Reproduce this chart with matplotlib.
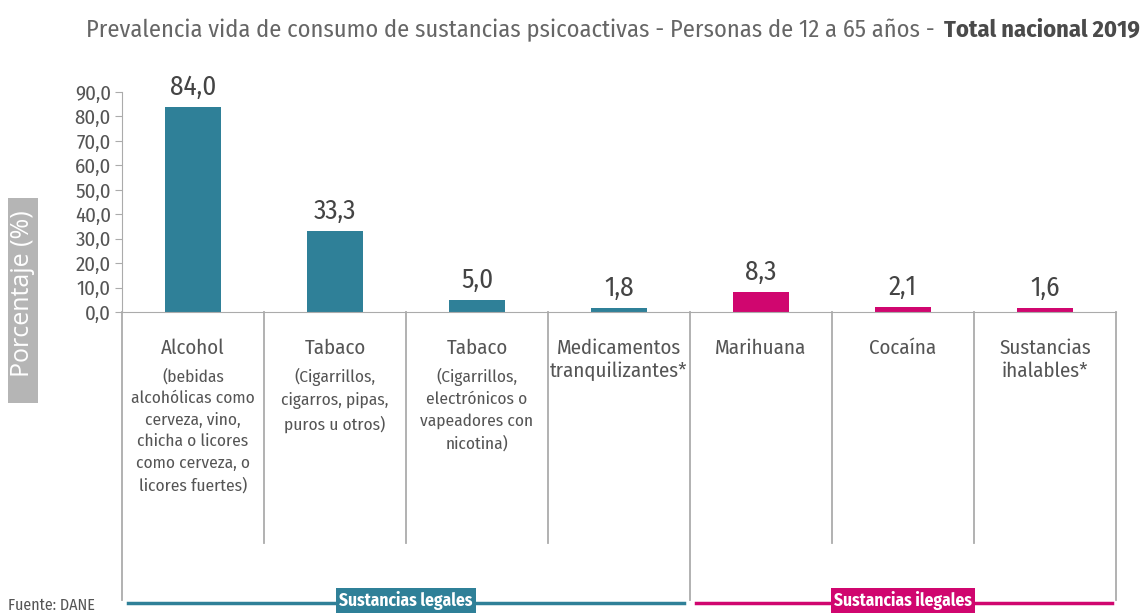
import matplotlib
matplotlib.use('Agg')
import matplotlib.pyplot as plt
from matplotlib.patches import Rectangle
from matplotlib.transforms import blended_transform_factory

plt.rcParams['font.family'] = ['Fira Sans Condensed', 'DejaVu Sans']

# data
categorias = ['Alcohol', 'Tabaco', 'Tabaco', 'Medicamentos\ntranquilizantes*',
              'Marihuana', 'Cocaína', 'Sustancias\nihalables*']
detalles = ['(bebidas\nalcohólicas como\ncerveza, vino,\nchicha o licores\ncomo cerveza, o\nlicores fuertes)',
            '(Cigarrillos,\ncigarros, pipas,\npuros u otros)',
            '(Cigarrillos,\nelectrónicos o\nvapeadores con\nnicotina)',
            '', '', '', '']
valores = [84.0, 33.3, 5.0, 1.8, 8.3, 2.1, 1.6]
legal = [True, True, True, True, False, False, False]
yticks = [0, 10, 20, 30, 40, 50, 60, 70, 80, 90]

TEAL = '#2f8098'
MAGENTA = '#d0066f'
GRIS = '#ababab'
TXT = '#555555'

W, H = 1147, 613
fig = plt.figure(figsize=(W / 100, H / 100), dpi=100)
ax = fig.add_axes([122 / W, 1 - 312 / H, (1116 - 122) / W, (312 - 92) / H])

x = [i + 0.5 for i in range(len(valores))]
colores = [TEAL if l else MAGENTA for l in legal]
ax.bar(x, valores, width=0.4, color=colores)
for xi, v in zip(x, valores):
    ax.text(xi, v + 2.5, f'{v:.1f}'.replace('.', ','), ha='center', va='bottom',
            fontsize=19.5, color='#444444')

ax.set_xlim(0, len(valores))
ax.set_ylim(0, 90)
ax.set_yticks(yticks)
ax.set_yticklabels([f'{t:.1f}'.replace('.', ',') for t in yticks], fontsize=15, color=TXT)
ax.set_xticks([])
ax.tick_params(axis='y', length=5, color=GRIS, direction='out', pad=3)
for s in ['top', 'right']:
    ax.spines[s].set_visible(False)
ax.spines['left'].set_color(GRIS)
ax.spines['bottom'].set_color(GRIS)

tr = blended_transform_factory(ax.transData, fig.transFigure)
fy = lambda px: 1 - px / H

# separators below the axis
for i in range(len(valores) + 1):
    bottom = 600 if i in (0, 4, 7) else 543
    ax.plot([i, i], [fy(312), fy(bottom)], color=GRIS, lw=1.3, transform=tr, clip_on=False)

# category labels
for xi, c, d in zip(x, categorias, detalles):
    ax.text(xi, fy(339), c, ha='center', va='top', fontsize=15, color=TXT,
            transform=tr, linespacing=1.2)
    if d:
        ax.text(xi, fy(368), d, ha='center', va='top', fontsize=12.5, color=TXT,
                transform=tr, linespacing=1.45)

# group lines
ax.plot([0.04, 3.96], [fy(603), fy(603)], color=TEAL, lw=2.5, transform=tr, clip_on=False)
ax.plot([4.04, 6.97], [fy(603), fy(603)], color=MAGENTA, lw=2.5, transform=tr, clip_on=False)
ax.text(2.0, fy(601), 'Sustancias legales', ha='center', va='center', fontsize=12.5,
        color='white', fontweight='bold', transform=tr,
        bbox=dict(boxstyle='square,pad=0.2', fc=TEAL, ec='none'))
ax.text(5.5, fy(601), 'Sustancias ilegales', ha='center', va='center', fontsize=12.5,
        color='white', fontweight='bold', transform=tr,
        bbox=dict(boxstyle='square,pad=0.2', fc=MAGENTA, ec='none'))

# y label box
fig.patches.append(Rectangle((8 / W, fy(403)), 30 / W, 205 / H, transform=fig.transFigure,
                             facecolor='#b5b5b5', edgecolor='none'))
fig.text(23 / W, fy(294), 'Porcentaje (%)', rotation=90, ha='center', va='center',
         fontsize=18, color='white', family=['Open Sans', 'DejaVu Sans'])

fig.text(8 / W, fy(605), 'Fuente: DANE', ha='left', va='center', fontsize=11.5, color=TXT)

# title
t_bold = fig.text(1140 / W, fy(30), 'Total nacional 2019', ha='right', va='center',
                  fontsize=17.5, fontweight='bold', color='#4a4a4a')
fig.canvas.draw()
bb = t_bold.get_window_extent()
fig.text((bb.x0 - 9) / W, fy(30),
         'Prevalencia vida de consumo de sustancias psicoactivas - Personas de 12 a 65 años -',
         ha='right', va='center', fontsize=17.5, color='#666666')

fig.savefig('out.png', dpi=100)
